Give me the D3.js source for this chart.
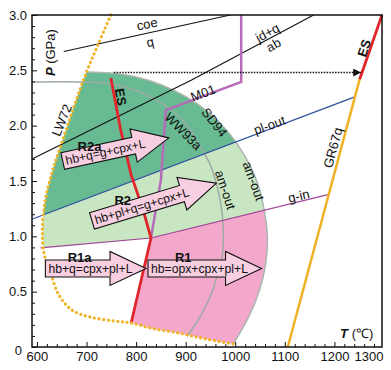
<!DOCTYPE html>
<html>
<head>
<meta charset="utf-8">
<script src="https://cdn.jsdelivr.net/npm/d3@7"></script>
<style>
  body { margin: 0; background: #fff; }
  svg { display: block; font-family: "Liberation Sans", Arial, sans-serif; }
</style>
</head>
<body>
<div id="chart"></div>
<script>
// --------------------------------------
//  Data (T in degC, P in GPa)
// --------------------------------------
const lw72 = [[749,3.0],[723,2.73],[700,2.485],[676,2.19],[652,1.87],[632,1.60],[617,1.33],[611,1.06],[615,0.83],[627,0.68],[644,0.47],[672,0.33],[708,0.27],[755,0.235],[790,0.217],[830,0.17],[885,0.127],[941,0.072],[996,0.027]];
const sd94 = [[700,2.485],[749,2.476],[800,2.44],[850,2.37],[901,2.26],[946,2.12],[986,1.94],[1020,1.72],[1045,1.48],[1059,1.22],[1065,0.967],[1061,0.74],[1049,0.515],[1029,0.29],[996,0.027]];
const ww93a = [[591,2.395],[688,2.395],[749,2.376],[810,2.30],[860,2.18],[901,2.01],[931,1.80],[952,1.62],[966,1.40],[974,1.19],[976,1.01],[974,0.83],[964,0.65],[948,0.44],[925,0.244],[903,0.10]];
const es = [[749,2.43],[769,1.96],[790,1.555],[814,1.24],[830,0.985],[790,0.217]];
const esHigh = [[1251,2.42],[1296,3.0]];
const gr67q = [[1106,0],[1251,2.42]];
const plOut = [[591,1.157],[1241,2.26]];
const gIn = [[607,0.895],[830,0.985],[1191,1.382]];
const m01 = [[1012,3.0],[1012,2.395],[860,2.14],[850,1.51],[830,0.985]];
const jdq = [[591,1.70],[911,2.41],[1158,3.0]];
const coeq = [[654,2.67],[990,3.0]];
const pathArrow = [[755,2.48],[1254,2.48]];

const reactions = [
  {name: "R2a", text: "hb+q=g+cpx+L",    from: [652,1.68], to: [866,1.89]},
  {name: "R2",  text: "hb+pl+q=g+cpx+L", from: [711,1.14], to: [962,1.48]},
  {name: "R1a", text: "hb+q=cpx+pl+L",   from: [617,0.71], to: [820,0.71]},
  {name: "R1",  text: "hb=opx+cpx+pl+L", from: [824,0.71], to: [1053,0.71]}
];

const xTicks = [600, 700, 800, 900, 1000, 1100, 1200, 1300];
const yTicks = [0, 0.5, 1.0, 1.5, 2.0, 2.5, 3.0];

const labels = [
  {text: "LW72",  at: [650,2.05],  rot: -68},
  {text: "ES",    at: [769,2.26],  rot: 80, bold: true},
  {text: "ES",    at: [1260,2.70], rot: -72, bold: true},
  {text: "M01",   at: [935,2.295], rot: -21},
  {text: "SD94",  at: [958,2.03],  rot: 52},
  {text: "WW93a", at: [895,1.95],  rot: 45},
  {text: "am-out", at: [980,1.42], rot: 72},
  {text: "am-out", at: [1037,1.50], rot: 70},
  {text: "pl-out", at: [1069,2.006], rot: -20},
  {text: "g-in",  at: [1128,1.365], rot: -13},
  {text: "GR67q", at: [1197,1.80], rot: -75},
  {text: "jd+q",  at: [1065,2.84], rot: -29},
  {text: "ab",    at: [1077,2.73], rot: -29},
  {text: "coe",   at: [822,2.92],  rot: -12},
  {text: "q",     at: [828,2.755], rot: -12},
  {text: "R2a",   at: [706,1.816], bold: true},
  {text: "R2",    at: [773,1.32],  bold: true},
  {text: "R1a",   at: [686,0.81],  bold: true},
  {text: "R1",    at: [895,0.81],  bold: true}
];

// --------------------------------------
//  Margin and canvas
// --------------------------------------
const width = 391, height = 370;
const margin = {top: 15, right: 9, bottom: 23, left: 32};
const innerwidth = width - margin.left - margin.right;
const innerheight = height - margin.top - margin.bottom;

const svg = d3.select("#chart").append("svg")
  .attr("width", width).attr("height", height)
  .attr("viewBox", `0 0 ${width} ${height}`);

const defs = svg.append("defs");
const chart = svg.append("g")
  .attr("transform", `translate(${margin.left}, ${margin.top})`);

const x = d3.scaleLinear().domain([590, 1296]).range([0, innerwidth]);
const y = d3.scaleLinear().domain([0, 3]).range([innerheight, 0]);

const straight = d3.line().x(d => x(d[0])).y(d => y(d[1]));
const smooth = d3.line().x(d => x(d[0])).y(d => y(d[1])).curve(d3.curveCatmullRom);
const cont = (p) => p.replace(/^M/, "L");

const [T0, T1] = x.domain();

// --------------------------------------
//  Fields (clip paths)
// --------------------------------------
const lwPart = lw72.filter(d => d[1] <= sd94[0][1]);
defs.append("clipPath").attr("id", "env").append("path")
  .attr("d", smooth(lwPart) + cont(smooth(sd94.slice().reverse())) + "Z");

defs.append("clipPath").attr("id", "belowGin").append("path")
  .attr("d", straight(gIn.concat([[gIn[gIn.length-1][0], 0], [gIn[0][0], 0]])) + "Z");

const fields = chart.append("g").attr("clip-path", "url(#env)");

// light green: everything above g-in
fields.append("path")
  .attr("d", straight(gIn.concat([[T1, gIn[gIn.length-1][1]], [T1, 3], [T0, 3], [T0, gIn[0][1]]])) + "Z")
  .attr("fill", "#c9e6c3");

// dark green: above pl-out
fields.append("path")
  .attr("d", straight(plOut.concat([[T1, plOut[1][1]], [T1, 3], [T0, 3], [T0, plOut[0][1]]])) + "Z")
  .attr("fill", "#68ba92");

// pink: below g-in, right of ES
const lastEs = es[es.length-1];
fields.append("g").attr("clip-path", "url(#belowGin)")
  .append("path")
  .attr("d", straight(es.concat([[lastEs[0], 0], [T1, 0], [T1, 3], [es[0][0], 3]])) + "Z")
  .attr("fill", "#f3a8cb");

// --------------------------------------
//  Lines
// --------------------------------------
const lines = chart.append("g").attr("fill", "none");

lines.append("path").attr("d", smooth(sd94)).attr("stroke", "#aab6ae").attr("stroke-width", 1.5);
lines.append("path").attr("d", smooth(ww93a)).attr("stroke", "#9eaba4").attr("stroke-width", 1.5);

lines.append("path").attr("d", straight(jdq)).attr("stroke", "#111").attr("stroke-width", 1.1);
lines.append("path").attr("d", straight(coeq)).attr("stroke", "#111").attr("stroke-width", 1.1);
lines.append("path").attr("d", straight(plOut)).attr("stroke", "#2f4f9e").attr("stroke-width", 1.2);
lines.append("path").attr("d", straight(gIn)).attr("stroke", "#9e4496").attr("stroke-width", 1.2);
lines.append("path").attr("d", straight(m01)).attr("stroke", "#b46cb8").attr("stroke-width", 2.5);
lines.append("path").attr("d", straight(gr67q)).attr("stroke", "#efb226").attr("stroke-width", 2.5);
lines.append("path").attr("d", straight(esHigh)).attr("stroke", "#e0262b").attr("stroke-width", 2.8);
lines.append("path").attr("d", straight(es)).attr("stroke", "#e0262b").attr("stroke-width", 2.8);

lines.append("path").attr("d", smooth(lw72))
  .attr("stroke", "#f0b42a").attr("stroke-width", 3.2)
  .attr("stroke-linecap", "round").attr("stroke-dasharray", "0.1 4.6");

defs.append("marker").attr("id", "tri")
  .attr("viewBox", "0 0 10 10").attr("refX", 10).attr("refY", 5)
  .attr("markerWidth", 9).attr("markerHeight", 8)
  .attr("markerUnits", "userSpaceOnUse").attr("orient", "auto")
  .append("path").attr("d", "M0,0L10,5L0,10Z").attr("fill", "#111");

lines.append("path").attr("d", straight(pathArrow))
  .attr("stroke", "#111").attr("stroke-width", 1.4)
  .attr("stroke-dasharray", "1.5 1.3")
  .attr("marker-end", "url(#tri)");

// --------------------------------------
//  Reaction arrows
// --------------------------------------
const bh = 8.5, hh = 17, hl = 36;
reactions.forEach(r => {
  const x0 = x(r.from[0]), y0 = y(r.from[1]);
  const x1 = x(r.to[0]), y1 = y(r.to[1]);
  const len = Math.hypot(x1 - x0, y1 - y0);
  const ang = Math.atan2(y1 - y0, x1 - x0) * 180 / Math.PI;
  const pts = [[0,-bh],[len-hl,-bh],[len-hl,-hh],[len,0],[len-hl,hh],[len-hl,bh],[0,bh]];
  const g = chart.append("g").attr("transform", `translate(${x0},${y0}) rotate(${ang})`);
  g.append("path").attr("d", "M" + pts.join("L") + "Z")
    .attr("fill", "#f7cfe1").attr("stroke", "#111").attr("stroke-width", 1.1);
  g.append("text").attr("x", 3).attr("dy", "0.36em")
    .attr("font-size", 12.2).attr("fill", "#111").text(r.text);
});

// --------------------------------------
//  Labels
// --------------------------------------
chart.append("g").selectAll("text").data(labels).join("text")
  .attr("transform", d => `translate(${x(d.at[0])},${y(d.at[1])}) rotate(${d.rot || 0})`)
  .attr("text-anchor", "middle").attr("dy", "0.35em")
  .attr("font-size", 13).attr("fill", "#111")
  .attr("font-weight", d => d.bold ? "bold" : null)
  .text(d => d.text);

const pLab = chart.append("text")
  .attr("transform", `translate(${x(627)},${y(2.66)}) rotate(-90)`)
  .attr("text-anchor", "middle").attr("dy", "0.35em").attr("font-size", 13).attr("fill", "#111");
pLab.append("tspan").attr("font-weight", "bold").attr("font-style", "italic").text("P");
pLab.append("tspan").text(" (GPa)");

const tLab = chart.append("text")
  .attr("transform", `translate(${x(1245)},${y(0.126)})`)
  .attr("text-anchor", "middle").attr("dy", "0.35em").attr("font-size", 13).attr("fill", "#111");
tLab.append("tspan").attr("font-weight", "bold").attr("font-style", "italic").text("T");
tLab.append("tspan").text(" (\u2103)");

// --------------------------------------
//  Axes
// --------------------------------------
const xMinor = d3.range(600, 1296, 20).filter(v => v % 100 !== 0);
const yMinor = d3.range(1, 30).map(v => v / 10).filter((v, i) => (i + 1) % 5 !== 0);

chart.append("g").attr("transform", `translate(0, ${innerheight})`)
  .call(d3.axisBottom(x).tickValues(xMinor).tickSize(-3).tickFormat(""))
  .call(g => g.select(".domain").remove());

const gx = chart.append("g").attr("transform", `translate(0, ${innerheight})`)
  .call(d3.axisBottom(x).tickValues(xTicks).tickSize(-5).tickPadding(5).tickFormat(d3.format("d")))
  .call(g => g.select(".domain").remove());
gx.selectAll(".tick").filter(d => d === 1300)
  .call(t => t.select("line").remove())
  .select("text").attr("text-anchor", "end").attr("x", -1);

chart.append("g")
  .call(d3.axisLeft(y).tickValues(yMinor).tickSize(-3).tickFormat(""))
  .call(g => g.select(".domain").remove());

const gy = chart.append("g")
  .call(d3.axisLeft(y).tickValues(yTicks).tickSize(-5).tickPadding(5)
    .tickFormat(d => d === 0 ? "0" : d3.format(".1f")(d)))
  .call(g => g.select(".domain").remove());
gy.selectAll(".tick").filter(d => d === 0).select("text").attr("x", -10).attr("dy", "0.55em");

[gx, gy].forEach(g => {
  g.selectAll("text").attr("font-size", 13).attr("fill", "#111")
    .attr("font-family", "\"Liberation Sans\", Arial, sans-serif");
});
chart.selectAll(".tick line").attr("stroke", "#111");

chart.append("rect")
  .attr("width", innerwidth).attr("height", innerheight)
  .attr("fill", "none").attr("stroke", "#111").attr("stroke-width", 1.5);
</script>
</body>
</html>
